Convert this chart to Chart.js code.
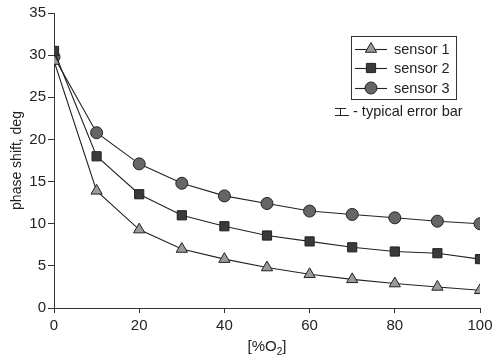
<!DOCTYPE html>
<html>
<head>
<meta charset="utf-8">
<script src="https://cdn.jsdelivr.net/npm/chart.js@4/dist/chart.umd.min.js"></script>
<style>
  html, body { margin: 0; padding: 0; background: #fff; }
  #wrap { width: 492px; height: 360px; }
</style>
</head>
<body>
<div id="wrap"><canvas id="chart" width="492" height="360"></canvas></div>
<script>
  // oxygen concentration [%O2]
  const oxygen = [0, 10, 20, 30, 40, 50, 60, 70, 80, 90, 100];
  // phase shift, deg
  const sensor1 = [29.3, 13.9, 9.3, 7.0, 5.8, 4.8, 4.0, 3.4, 2.9, 2.5, 2.1];
  const sensor2 = [30.5, 18.0, 13.5, 11.0, 9.7, 8.6, 7.9, 7.2, 6.7, 6.5, 5.8];
  const sensor3 = [29.8, 20.8, 17.1, 14.8, 13.3, 12.4, 11.5, 11.1, 10.7, 10.3, 10.0];
  const seriesNames = ['sensor 1', 'sensor 2', 'sensor 3'];
  const xTicks = [0, 20, 40, 60, 80, 100];
  const yTicks = [0, 5, 10, 15, 20, 25, 30, 35];

  const FONT = '"Liberation Sans", Arial, Helvetica, sans-serif';
  const INK = '#222';

  const styles = [
    { pointStyle: 'triangle', bg: '#9a9a9a', r: 6.5 },
    { pointStyle: 'rect', bg: '#3a3a3a', r: 6.5 },
    { pointStyle: 'circle', bg: '#666', r: 6 }
  ];

  const toXY = (vals) => vals.map((v, i) => ({ x: oxygen[i], y: v }));

  const datasets = [sensor1, sensor2, sensor3].map((vals, i) => ({
    label: seriesNames[i],
    data: toXY(vals),
    borderColor: INK,
    borderWidth: 1.1,
    backgroundColor: styles[i].bg,
    pointStyle: styles[i].pointStyle,
    pointRadius: styles[i].r,
    pointBorderColor: INK,
    pointBorderWidth: 1,
    tension: 0
  }));

  // legend box + error bar note + x title with subscript
  const extras = {
    id: 'extras',
    afterDraw(chart) {
      const ctx = chart.ctx;
      ctx.save();
      ctx.strokeStyle = '#333';
      ctx.lineWidth = 1;
      ctx.strokeRect(351.5, 36.5, 105, 63);

      ctx.font = '14.5px ' + FONT;
      ctx.fillStyle = INK;
      ctx.textBaseline = 'middle';
      const rows = [49, 68, 88];
      rows.forEach((y, i) => {
        ctx.beginPath();
        ctx.moveTo(355, y + 0.5);
        ctx.lineTo(387, y + 0.5);
        ctx.strokeStyle = INK;
        ctx.lineWidth = 1.1;
        ctx.stroke();
        ctx.fillStyle = styles[i].bg;
        ctx.strokeStyle = INK;
        ctx.lineWidth = 1;
        Chart.helpers.drawPoint(ctx, {
          pointStyle: styles[i].pointStyle, radius: styles[i].r, borderWidth: 1, rotation: 0
        }, 371, y);
        ctx.fillStyle = INK;
        ctx.textAlign = 'left';
        ctx.fillText(seriesNames[i], 394, y + 1);
      });

      // typical error bar glyph (工-like)
      ctx.strokeStyle = INK;
      ctx.lineWidth = 1;
      ctx.beginPath();
      ctx.moveTo(335, 108.5); ctx.lineTo(346, 108.5);
      ctx.moveTo(335, 115.5); ctx.lineTo(349, 115.5);
      ctx.moveTo(340.5, 108.5); ctx.lineTo(340.5, 115.5);
      ctx.stroke();
      ctx.fillText('- typical error bar', 353, 112);

      // x title [%O2]
      const cx = (chart.chartArea.left + chart.chartArea.right) / 2;
      const y = 347;
      const a = '[%O', b = '2', c = ']';
      ctx.font = '15px ' + FONT;
      const wa = ctx.measureText(a).width, wc = ctx.measureText(c).width;
      ctx.font = '10px ' + FONT;
      const wb = ctx.measureText(b).width;
      let x = cx - (wa + wb + wc) / 2;
      ctx.textAlign = 'left';
      ctx.font = '15px ' + FONT;
      ctx.fillText(a, x, y);
      x += wa;
      ctx.font = '10px ' + FONT;
      ctx.fillText(b, x, y + 5);
      x += wb;
      ctx.font = '15px ' + FONT;
      ctx.fillText(c, x, y);
      ctx.restore();
    }
  };

  new Chart(document.getElementById('chart'), {
    type: 'line',
    data: { datasets },
    options: {
      responsive: false,
      animation: false,
      layout: { padding: { top: 13, right: 12, left: 0, bottom: 0 } },
      plugins: { legend: { display: false }, tooltip: { enabled: false } },
      scales: {
        x: {
          type: 'linear',
          min: 0, max: 100,
          afterBuildTicks: (s) => { s.ticks = xTicks.map(v => ({ value: v })); },
          afterFit: (s) => { s.height = 52; s.paddingLeft = 0; s.paddingRight = 0; },
          border: { color: '#333', width: 1 },
          grid: { drawOnChartArea: false, drawTicks: true, tickLength: 5, color: '#333' },
          ticks: { color: INK, font: { family: FONT, size: 15 }, padding: 4, maxRotation: 0 }
        },
        y: {
          min: 0, max: 35,
          afterBuildTicks: (s) => { s.ticks = yTicks.map(v => ({ value: v })); },
          afterFit: (s) => { s.width = 54; s.paddingTop = 0; s.paddingBottom = 0; },
          border: { color: '#333', width: 1 },
          grid: { drawOnChartArea: false, drawTicks: true, tickLength: 6, color: '#333' },
          ticks: { color: INK, font: { family: FONT, size: 15 }, padding: 2 },
          title: { display: true, text: 'phase shift, deg', color: INK, font: { family: FONT, size: 14 }, padding: { top: 9, bottom: 0 } }
        }
      }
    },
    plugins: [extras]
  });
</script>
</body>
</html>
